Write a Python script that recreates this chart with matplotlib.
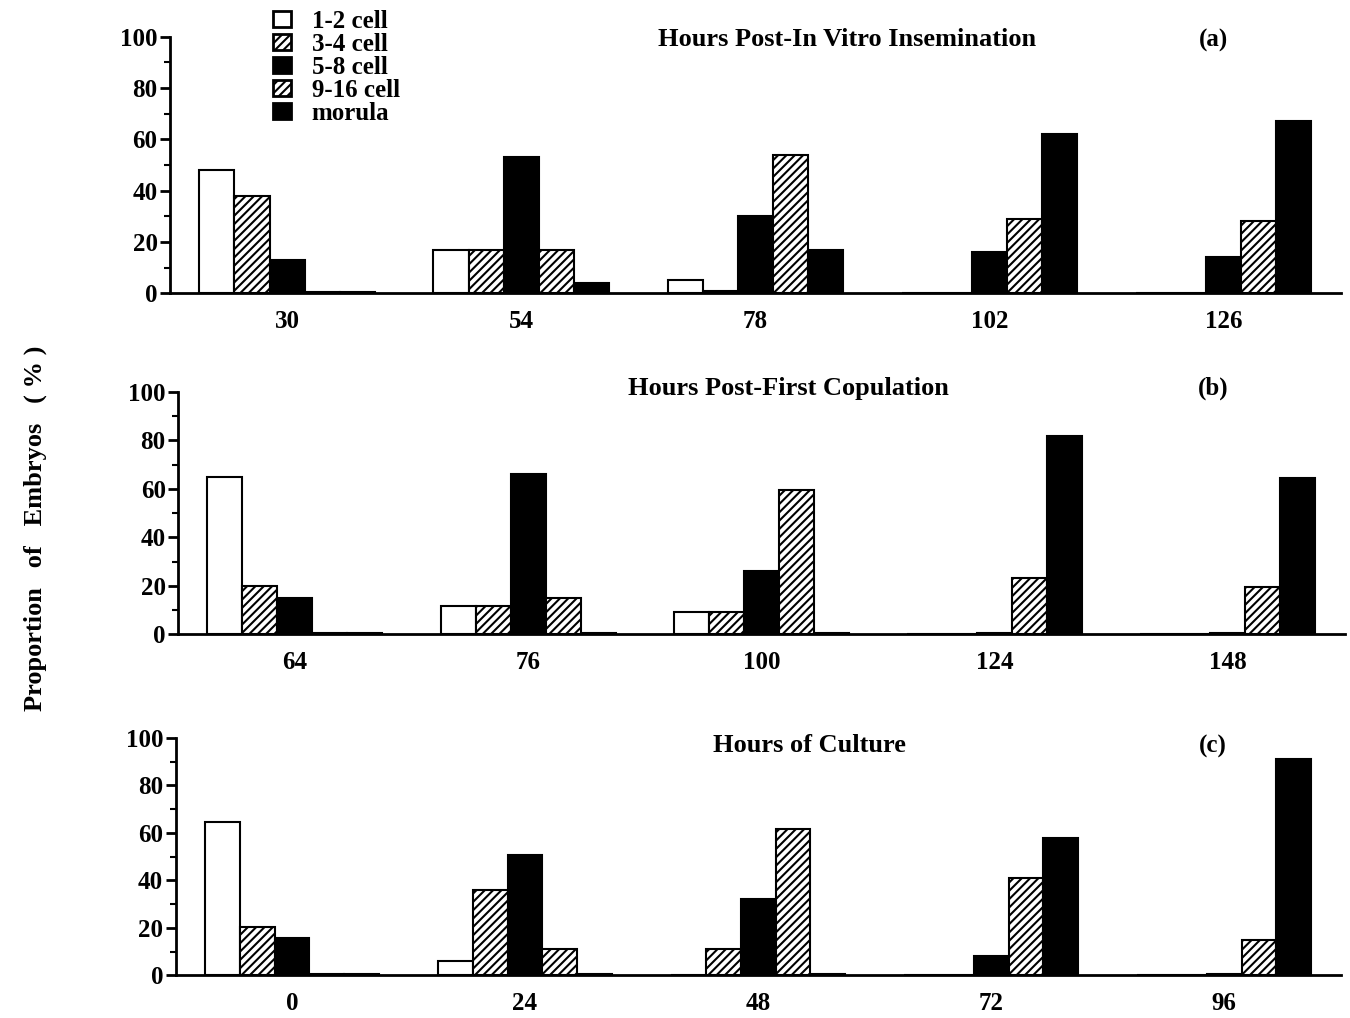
import matplotlib
matplotlib.use("Agg")
import matplotlib.pyplot as plt
import numpy as np
from matplotlib.patches import Patch

plt.rcParams['font.family'] = ['Liberation Serif', 'DejaVu Serif']
plt.rcParams['font.weight'] = 'bold'
plt.rcParams['hatch.linewidth'] = 1.5

stages = ["1-2 cell", "3-4 cell", "5-8 cell", "9-16 cell", "morula"]

hours_a = ["30", "54", "78", "102", "126"]
a_12 = [48, 17, 5, 0, 0]
a_34 = [38, 17, 1, 0, 0]
a_58 = [13, 53, 30, 16, 14]
a_916 = [0.5, 17, 54, 29, 28]
a_mor = [0.5, 4, 17, 62, 67]

hours_b = ["64", "76", "100", "124", "148"]
b_12 = [65, 11.5, 9, 0, 0]
b_34 = [20, 11.5, 9, 0, 0]
b_58 = [15, 66, 26, 0.5, 0.5]
b_916 = [0.5, 15, 59.5, 23, 19.5]
b_mor = [0.5, 0.5, 0.5, 82, 64.5]

hours_c = ["0", "24", "48", "72", "96"]
c_12 = [64.5, 6, 0, 0, 0]
c_34 = [20.5, 36, 11, 0, 0]
c_58 = [15.5, 50.5, 32, 8, 0.5]
c_916 = [0.5, 11, 61.5, 41, 15]
c_mor = [0.5, 0.5, 0.5, 58, 91]

titles = ["Hours Post-In Vitro Insemination", "Hours Post-First Copulation", "Hours of Culture"]
tags = ["(a)", "(b)", "(c)"]

styles = [
    dict(facecolor="white", edgecolor="black", hatch=None),
    dict(facecolor="white", edgecolor="black", hatch="////"),
    dict(facecolor="black", edgecolor="black", hatch=None),
    dict(facecolor="white", edgecolor="black", hatch="////"),
    dict(facecolor="black", edgecolor="black", hatch=None),
]

fig = plt.figure(figsize=(13.5, 10.18), dpi=100)
positions = [
    [0.126, 0.712, 0.867, 0.252],
    [0.132, 0.377, 0.864, 0.238],
    [0.130, 0.042, 0.863, 0.233],
]
panels = [
    (hours_a, [a_12, a_34, a_58, a_916, a_mor]),
    (hours_b, [b_12, b_34, b_58, b_916, b_mor]),
    (hours_c, [c_12, c_34, c_58, c_916, c_mor]),
]
width = 0.15
title_y = [40, 388, 746]
title_x = [847, 788, 809]
for i, (pos, (hours, series)) in enumerate(zip(positions, panels)):
    ax = fig.add_axes(pos)
    x = np.arange(len(hours))
    for k, vals in enumerate(series):
        ax.bar(x + (k - 2) * width, vals, width, linewidth=1.5, **styles[k])
    ax.set_xlim(-0.5, 4.5)
    ax.set_ylim(0, 100)
    ax.spines['top'].set_visible(False)
    ax.spines['right'].set_visible(False)
    ax.spines['left'].set_linewidth(2)
    ax.spines['bottom'].set_linewidth(2)
    ax.set_yticks([0, 20, 40, 60, 80, 100])
    ax.set_yticks([10, 30, 50, 70, 90], minor=True)
    ax.tick_params(axis='y', which='major', direction='out', length=7, width=2, labelsize=18, pad=2)
    ax.tick_params(axis='y', which='minor', direction='out', length=4, width=1.5)
    ax.set_xticks(x)
    ax.set_xticklabels(hours)
    ax.tick_params(axis='x', length=0, labelsize=18, pad=12)
    fy = 1 - title_y[i] / 1018
    fig.text(title_x[i] / 1350, fy, titles[i], ha='center', va='center', fontsize=19, fontweight='bold')
    fig.text(1213 / 1350, fy, tags[i], ha='center', va='center', fontsize=18, fontweight='bold')

handles = [Patch(linewidth=2, **s) for s in styles]
fig.legend(handles, stages, loc='upper left', bbox_to_anchor=(273 / 1350, 1 - 10 / 1018), frameon=False,
           fontsize=18, handlelength=0.7, handleheight=0.6, handletextpad=0.85, labelspacing=0.0,
           borderaxespad=0, borderpad=0)

fig.text(35 / 1350, 1 - 528 / 1018, "Proportion   of   Embryos   ( % )", rotation=90, ha='center', va='center',
         fontsize=19, fontweight='bold')

fig.savefig("out.png", dpi=100)
